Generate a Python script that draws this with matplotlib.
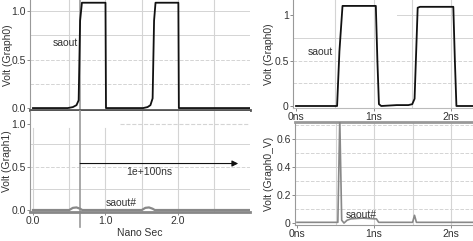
import matplotlib
matplotlib.use("Agg")
import matplotlib.pyplot as plt

plt.rcParams['font.family'] = ['Liberation Sans', 'DejaVu Sans']
plt.rcParams['font.size'] = 7.5

# ---- data ----
# left panel, top trace saout (ns, V)
lt_t = [0.0, 0.48, 0.55, 0.60, 0.63, 0.65, 0.675, 1.0, 1.007, 1.52, 1.58, 1.62, 1.65, 1.67, 1.69, 2.005, 2.012, 3.0]
lt_v = [0.0, 0.0, 0.01, 0.03, 0.08, 0.9, 1.085, 1.085, 0.0, 0.0, 0.01, 0.03, 0.1, 0.9, 1.085, 1.085, 0.0, 0.0]
# left panel, bottom trace saout#
lb_t = [0.0, 0.5, 0.55, 0.6, 0.65, 0.68, 1.5, 1.55, 1.6, 1.65, 1.68, 3.0]
lb_v = [0.0, 0.0, 0.025, 0.03, 0.015, 0.0, 0.0, 0.025, 0.03, 0.015, 0.0, 0.0]
# right panel, top trace saout
rt_t = [0.0, 0.53, 0.56, 0.60, 1.03, 1.05, 1.07, 1.10, 1.30, 1.45, 1.50, 1.53, 1.57, 1.60, 2.03, 2.05, 2.07, 2.30]
rt_v = [0.0, 0.0, 0.6, 1.1, 1.1, 0.5, 0.02, 0.0, 0.01, 0.01, 0.02, 0.08, 1.08, 1.09, 1.09, 0.5, 0.0, 0.0]
# right panel, bottom trace saout#
rb_t = [0.0, 0.53, 0.555, 0.58, 0.61, 0.65, 0.7, 0.85, 1.0, 1.03, 1.06, 1.5, 1.525, 1.55, 2.3]
rb_v = [0.005, 0.005, 0.74, 0.02, 0.0, 0.02, 0.03, 0.035, 0.03, 0.03, 0.005, 0.005, 0.055, 0.005, 0.005]

cursor_t = 0.65
arrow_end = 2.83
left_xticks = [0.0, 1.0, 2.0]
left_xticklabels = ["0.0", "1.0", "2.0"]
left_yticks = [0.0, 0.5, 1.0]
left_yticklabels = ["0.0", "0.5", "1.0"]
rt_yticks = [0, 0.5, 1]
rt_yticklabels = ["0", "0.5", "1"]
rb_yticks = [0, 0.2, 0.4, 0.6]
rb_yticklabels = ["0", "0.2", "0.4", "0.6"]
r_xticks = [0, 1, 2]
r_xticklabels = ["0ns", "1ns", "2ns"]

W, H = 473, 241
fig = plt.figure(figsize=(W / 100, H / 100), dpi=100)

def ax_px(x0, y0, x1, y1):
    return fig.add_axes([x0 / W, 1 - y1 / H, (x1 - x0) / W, (y1 - y0) / H])

GRID = '#d4d4d4'
TXT = '#333333'

def style(ax):
    for s in ['top', 'right']:
        ax.spines[s].set_visible(False)
    ax.spines['left'].set_color('#999999')
    ax.spines['left'].set_linewidth(0.8)
    ax.spines['bottom'].set_color('#999999')
    ax.spines['bottom'].set_linewidth(0.8)
    ax.tick_params(colors='#777777', labelcolor=TXT, length=2, width=0.6, pad=1, labelsize=7.5)
    ax.set_facecolor('white')

def ylab(ax, text, xpos):
    ax.set_ylabel(text, color=TXT, fontsize=7.5)
    ax.yaxis.set_label_coords(xpos, 0.5)

# ---------- left top ----------
ax1 = ax_px(30, 0, 250, 110)
style(ax1)
ax1.set_xlim(-0.041, 2.993)
ax1.set_ylim(-0.02, 1.113)
for y, ls in [(1.0, '-'), (0.75, '-'), (0.5, '--'), (0.25, '--')]:
    ax1.axhline(y, color=GRID, lw=0.7, ls=ls, zorder=0)
for x in [0.5, 1.0, 1.5, 2.0, 2.5]:
    ax1.axvline(x, color=GRID, lw=0.8, zorder=0)
ax1.axvline(cursor_t, color='#999999', lw=1.2, zorder=1)
ax1.plot(lt_t, lt_v, color='#111111', lw=1.3, zorder=3)
ax1.spines['bottom'].set_color('#555555')
ax1.spines['bottom'].set_linewidth(2.0)
ax1.set_xticks([])
ax1.set_yticks(left_yticks)
ax1.set_yticklabels(left_yticklabels)
ylab(ax1, "Volt (Graph0)", -0.078)
ax1.text(0.45, 0.67, "saout", fontsize=7.5, color=TXT, ha='center', va='center')

# ---------- left bottom ----------
ax2 = ax_px(30, 111, 250, 212)
style(ax2)
ax2.set_xlim(-0.041, 2.993)
ax2.set_ylim(-0.023, 1.15)
ax2.plot([1.2, 2.993], [1.0, 1.0], color=GRID, lw=0.8, ls='--', zorder=0)
for y, ls in [(0.77, '-'), (0.5, '--'), (0.24, '-')]:
    ax2.axhline(y, color=GRID, lw=0.7, ls=ls, zorder=0)
for x in [0.0, 0.5, 1.0]:
    ax2.plot([x, x], [0, 0.95], color=GRID, lw=0.8, zorder=0)
for x in [1.5, 2.0, 2.5]:
    ax2.axvline(x, color=GRID, lw=0.8, zorder=0)
ax2.plot([cursor_t, cursor_t], [-0.2, 1.15], color='#999999', lw=1.2, zorder=1, clip_on=False)
ax2.plot(lb_t, lb_v, color='#888888', lw=1.6, zorder=3)
ax2.annotate("", xy=(arrow_end, 0.54), xytext=(cursor_t, 0.54),
             arrowprops=dict(arrowstyle='-|>', color='#999999', lw=0.8,
                             mutation_scale=9, fc='#111111', ec='#111111',
                             shrinkA=0, shrinkB=0))
ax2.text(1.61, 0.44, "1e+100ns", fontsize=7.5, color=TXT, ha='center', va='center')
ax2.text(1.22, 0.08, "saout#", fontsize=7.5, color=TXT, ha='center', va='center')
ax2.spines['bottom'].set_color('#888888')
ax2.spines['bottom'].set_linewidth(2.0)
ax2.set_xticks(left_xticks)
ax2.set_xticklabels(left_xticklabels)
ax2.set_yticks(left_yticks)
ax2.set_yticklabels(left_yticklabels)
ylab(ax2, "Volt (Graph1)", -0.083)
ax2.set_xlabel("Nano Sec", color=TXT, fontsize=7.5, labelpad=1)

# ---------- right top ----------
ax3 = ax_px(293, 0, 473, 108)
style(ax3)
ax3.set_xlim(-0.039, 2.284)
ax3.set_ylim(-0.022, 1.165)
for y, ls in [(0.75, '-'), (0.5, '--'), (0.25, '--')]:
    ax3.axhline(y, color=GRID, lw=0.7, ls=ls, zorder=0)
ax3.plot([1.3, 2.284], [1.0, 1.0], color=GRID, lw=0.7, zorder=0)
for x in [0.5, 1.0, 1.5, 2.0]:
    ax3.axvline(x, color=GRID, lw=0.8, zorder=0)
ax3.plot(rt_t, rt_v, color='#111111', lw=1.3, zorder=3)
ax3.spines['bottom'].set_color('#bbbbbb')
ax3.set_xticks(r_xticks)
ax3.set_xticklabels(r_xticklabels)
ax3.set_yticks(rt_yticks)
ax3.set_yticklabels(rt_yticklabels)
ylab(ax3, "Volt (Graph0)", -0.108)
ax3.text(0.31, 0.59, "saout", fontsize=7.5, color=TXT, ha='center', va='center')

# ---------- right bottom ----------
ax4 = ax_px(295, 122, 473, 225)
style(ax4)
ax4.set_xlim(-0.026, 2.284)
ax4.set_ylim(-0.014, 0.72)
ax4.spines['top'].set_visible(True)
ax4.spines['top'].set_color('#999999')
ax4.spines['top'].set_linewidth(2.0)
for y, ls in [(0.7, '--'), (0.6, '-'), (0.5, '--'), (0.4, '-'), (0.3, '--'), (0.2, '-'), (0.1, '--')]:
    ax4.axhline(y, color=GRID, lw=0.7, ls=ls, zorder=0)
for x in [0.5, 1.0, 1.5, 2.0]:
    ax4.axvline(x, color=GRID, lw=0.8, zorder=0)
ax4.plot(rb_t, rb_v, color='#888888', lw=1.2, zorder=3)
ax4.set_xticks(r_xticks)
ax4.set_xticklabels(r_xticklabels)
ax4.set_yticks(rb_yticks)
ax4.set_yticklabels(rb_yticklabels)
ylab(ax4, "Volt (Graph0_V)", -0.12)
ax4.text(0.83, 0.055, "saout#", fontsize=7.5, color=TXT, ha='center', va='center')

fig.savefig("out.png", dpi=100, facecolor='white')
